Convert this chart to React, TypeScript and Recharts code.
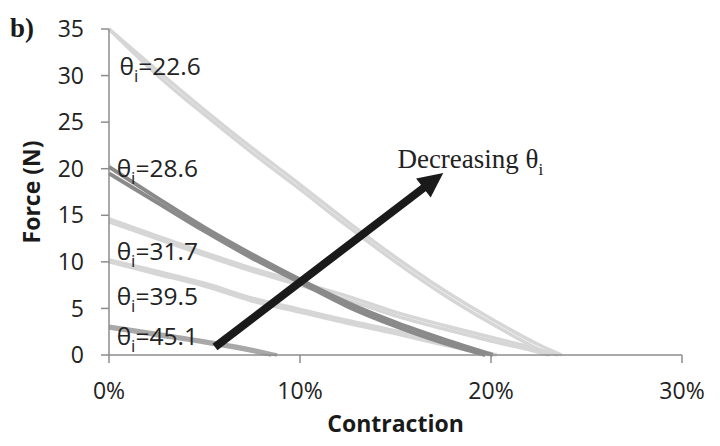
import {
  LineChart,
  Line,
  XAxis,
  YAxis,
  ReferenceLine,
  ReferenceDot,
  Label,
} from "recharts";

const forceTicks = [0, 5, 10, 15, 20, 25, 30, 35];
const contractionTicks = [0, 10, 20, 30];

// each pitch angle was run twice, so every curve is a pair of traces
// θi = 22.6
const c226a = [0, 2.5, 5, 7.5, 10, 12.5, 15, 17.5, 20, 22.5, 23.7];
const f226a = [35, 30.6, 26.3, 22.2, 18.3, 14.3, 10.5, 7.0, 3.9, 1.1, 0];
const c226b = [0, 2.5, 5, 7.5, 10, 12.5, 15, 17.5, 20, 22.5, 23.1];
const f226b = [35, 30.1, 25.8, 21.7, 17.8, 13.8, 10.0, 6.5, 3.4, 0.6, 0];

// θi = 28.6
const c286a = [0, 2.5, 5, 7.5, 10, 12.5, 15, 17.5, 20.1];
const f286a = [20.2, 16.9, 13.7, 10.8, 8.1, 5.6, 3.5, 1.7, 0];
const c286b = [0, 2.5, 5, 7.5, 10, 12.5, 15, 17.5, 19.7];
const f286b = [19.5, 16.4, 13.3, 10.4, 7.8, 5.2, 3.1, 1.3, 0];

// θi = 31.7
const c317a = [0, 2.5, 5, 7.5, 10, 12.5, 15, 17.5, 20, 22.5, 23.5];
const f317a = [14.6, 12.8, 11.0, 9.3, 7.8, 6.3, 4.6, 3.2, 1.9, 0.6, 0];
const c317b = [0, 2.5, 5, 7.5, 10, 12.5, 15, 17.5, 20, 22.5, 23.0];
const f317b = [14.3, 12.5, 10.7, 9.0, 7.5, 5.9, 4.2, 2.8, 1.5, 0.3, 0];

// θi = 39.5
const c395a = [0, 2.5, 5, 7.5, 10, 12.5, 15, 17.5, 20.3];
const f395a = [10.2, 9.0, 7.7, 6.1, 4.9, 3.7, 2.6, 1.4, 0];
const c395b = [0, 2.5, 5, 7.5, 10, 12.5, 15, 17.5, 19.9];
const f395b = [10.0, 8.7, 7.4, 5.8, 4.6, 3.4, 2.3, 1.1, 0];

// θi = 45.1
const c451a = [0, 2.5, 5, 7.5, 8.8];
const f451a = [3.1, 2.3, 1.5, 0.6, 0];
const c451b = [0, 2.5, 5, 7.5, 8.5];
const f451b = [2.9, 2.1, 1.3, 0.4, 0];

const thetaLabels = ["22.6", "28.6", "31.7", "39.5", "45.1"];
const thetaLabelForce = [30.1, 19.1, 10.2, 5.4, 1.1];
const thetaLabelContraction = [0.55, 0.4, 0.4, 0.4, 0.4];

// arrow from low force / small contraction towards the stiffer curves
const arrowFrom = { x: 5.55, y: 0.86 };
const arrowTo = { x: 17.5, y: 19.55 };

const LIGHT = "#d6d6d6";
const DARK = "#8a8a8a";
const MID = "#a8a8a8";
const AXIS = "#8c8c8c";
const TEXT = "#222";
const SANS = "'Open Sans', sans-serif";
const SERIF = "'Liberation Serif', 'Times New Roman', serif";

const zip = (c: number[], f: number[]) => c.map((x, i) => ({ c: x, f: f[i] }));

const traces = [
  { id: "226a", data: zip(c226a, f226a), color: LIGHT, w: 3.5 },
  { id: "226b", data: zip(c226b, f226b), color: LIGHT, w: 3.5 },
  { id: "317a", data: zip(c317a, f317a), color: LIGHT, w: 3.5 },
  { id: "317b", data: zip(c317b, f317b), color: LIGHT, w: 3.5 },
  { id: "395a", data: zip(c395a, f395a), color: LIGHT, w: 3.5 },
  { id: "395b", data: zip(c395b, f395b), color: LIGHT, w: 3.5 },
  { id: "286a", data: zip(c286a, f286a), color: DARK, w: 4 },
  { id: "286b", data: zip(c286b, f286b), color: DARK, w: 4 },
  { id: "451a", data: zip(c451a, f451a), color: MID, w: 3.5 },
  { id: "451b", data: zip(c451b, f451b), color: MID, w: 3.5 },
];

function Arrow(props: any) {
  const { x1, y1, x2, y2 } = props;
  const dx = x2 - x1;
  const dy = y2 - y1;
  const len = Math.sqrt(dx * dx + dy * dy);
  const ux = dx / len;
  const uy = dy / len;
  const head = 25;
  const half = 12;
  const bx = x2 - ux * head;
  const by = y2 - uy * head;
  const pts = [
    [x2, y2],
    [bx - uy * half, by + ux * half],
    [bx + uy * half, by - ux * half],
  ]
    .map((p) => p.join(","))
    .join(" ");
  return (
    <g>
      <line
        x1={x1}
        y1={y1}
        x2={bx + ux * 2}
        y2={by + uy * 2}
        stroke="#1a1a1a"
        strokeWidth={8}
      />
      <polygon points={pts} fill="#1a1a1a" />
    </g>
  );
}

export default function App() {
  return (
    <div
      style={{
        position: "absolute",
        left: 0,
        top: 0,
        width: 720,
        height: 446,
        background: "#fff",
      }}
    >
      <div
        style={{
          position: "absolute",
          left: 10,
          top: 15,
          fontFamily: SERIF,
          fontWeight: "bold",
          fontSize: 27,
          lineHeight: "27px",
          color: "#1a1a1a",
        }}
      >
        b)
      </div>
      <LineChart
        width={720}
        height={446}
        margin={{ top: 29, right: 38, bottom: 31, left: 0 }}
      >
        <XAxis
          type="number"
          dataKey="c"
          domain={[0, 30]}
          ticks={contractionTicks}
          tickFormatter={(v) => `${v}%`}
          height={60}
          stroke={AXIS}
          strokeWidth={1.5}
          tickSize={8}
          tickMargin={20}
          tick={{ fill: TEXT, fontSize: 23, fontFamily: SANS }}
          allowDuplicatedCategory={false}
        >
          <Label
            content={(p: any) => {
              const vb = p.viewBox;
              return (
                <text
                  x={vb.x + vb.width / 2}
                  y={vb.y + 77}
                  textAnchor="middle"
                  fontFamily={SANS}
                  fontWeight="bold"
                  fontSize={23}
                  fill="#1a1a1a"
                >
                  Contraction
                </text>
              );
            }}
          />
        </XAxis>
        <YAxis
          type="number"
          dataKey="f"
          domain={[0, 35]}
          ticks={forceTicks}
          width={109}
          stroke={AXIS}
          strokeWidth={1.5}
          tickSize={8}
          tickMargin={17}
          tick={{ fill: TEXT, fontSize: 23, fontFamily: SANS }}
        >
          <Label
            content={(p: any) => {
              const vb = p.viewBox;
              const cy = vb.y + vb.height / 2;
              return (
                <text
                  x={40}
                  y={cy}
                  transform={`rotate(-90, 40, ${cy})`}
                  textAnchor="middle"
                  fontFamily={SANS}
                  fontWeight="bold"
                  fontSize={23}
                  fill="#1a1a1a"
                >
                  Force (N)
                </text>
              );
            }}
          />
        </YAxis>
        {traces.map((t) => (
          <Line
            key={t.id}
            data={t.data}
            dataKey="f"
            type="monotone"
            stroke={t.color}
            strokeWidth={t.w}
            dot={false}
            activeDot={false}
            isAnimationActive={false}
          />
        ))}
        <ReferenceLine
          segment={[arrowFrom, arrowTo]}
          ifOverflow="visible"
          shape={(p: any) => <Arrow {...p} />}
        />
        {thetaLabels.map((v, i) => (
          <ReferenceDot
            key={v}
            x={thetaLabelContraction[i]}
            y={thetaLabelForce[i]}
            ifOverflow="visible"
            shape={(p: any) => (
              <text
                x={p.cx}
                y={p.cy}
                fontFamily={SANS}
                fontSize={24.5}
                fill={TEXT}
              >
                <tspan>θ</tspan>
                <tspan fontSize={17} dy={7}>
                  i
                </tspan>
                <tspan dy={-7}>={v}</tspan>
              </text>
            )}
          />
        ))}
        <ReferenceDot
          x={15.1}
          y={20.1}
          ifOverflow="visible"
          shape={(p: any) => (
            <text x={p.cx} y={p.cy} fontFamily={SERIF} fontSize={27} fill={TEXT}>
              <tspan>Decreasing θ</tspan>
              <tspan fontSize={17} dy={7}>
                i
              </tspan>
            </text>
          )}
        />
      </LineChart>
    </div>
  );
}
